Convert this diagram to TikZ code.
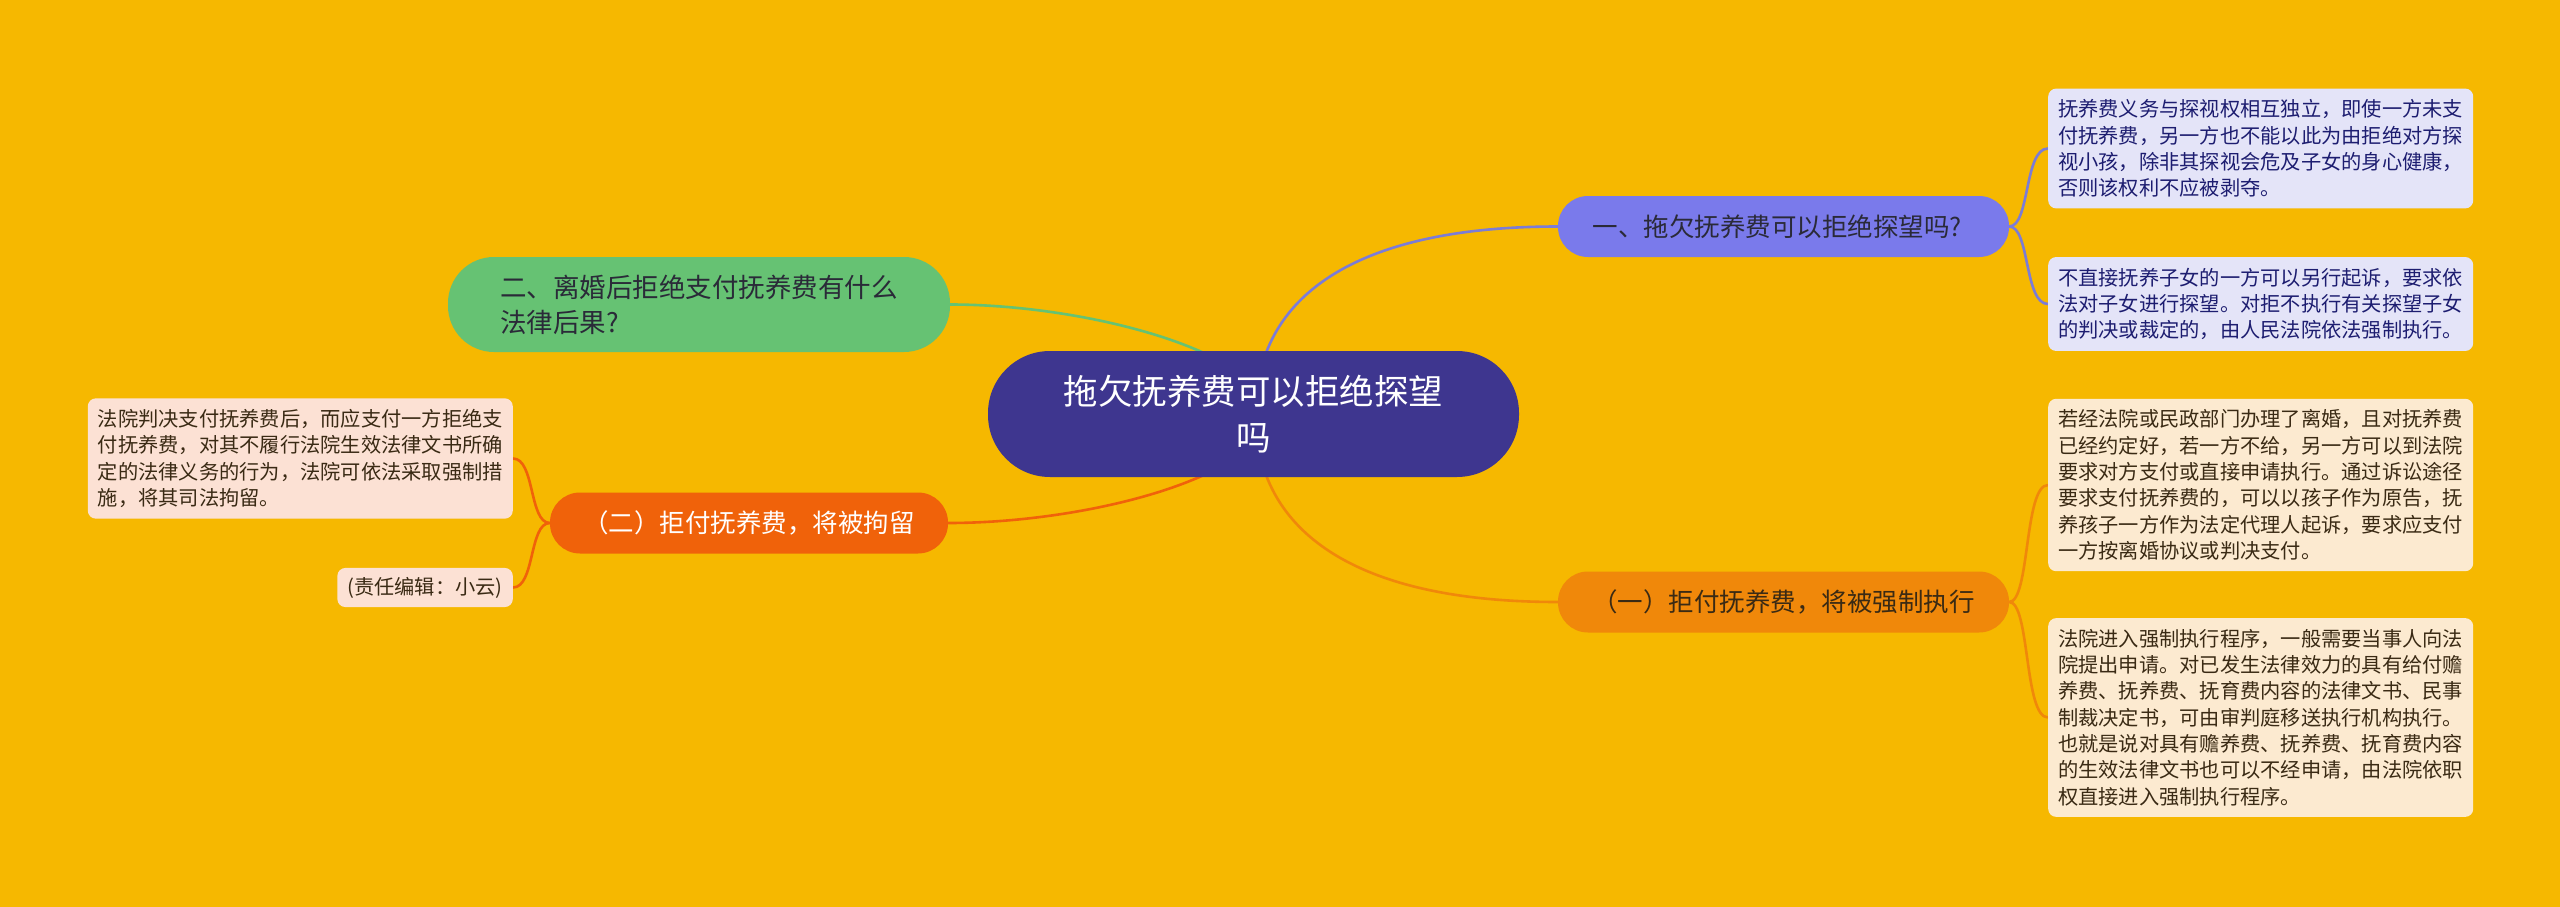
\documentclass[tikz,border=0pt]{standalone}
\usepackage{fontspec}
\setmainfont{Noto Sans CJK SC}
\definecolor{bgc}{HTML}{F6B800}
\definecolor{cen}{HTML}{3E368F}
\definecolor{blu}{HTML}{7A7AEB}
\definecolor{blul}{HTML}{7C7CD6}
\definecolor{grn}{HTML}{66C273}
\definecolor{org}{HTML}{F0880A}
\definecolor{red}{HTML}{F0620A}
\definecolor{lav}{HTML}{E4E4F8}
\definecolor{pch}{HTML}{FCEAD0}
\definecolor{pnk}{HTML}{FCE1D4}
\definecolor{navy}{HTML}{1D1D70}
\definecolor{brn}{HTML}{3A2A14}
\definecolor{drk}{HTML}{2A2A38}
\pgfdeclarelayer{bg}
\pgfsetlayers{bg,main}
\begin{document}
\begin{tikzpicture}[x=1pt,y=-1pt,
  central/.style={fill=cen, text=white, rounded corners=62pt, minimum width=531pt, minimum height=126pt, inner sep=0pt, align=center, font=\fontsize{34.5}{46}\selectfont},
  branch/.style={rounded corners=30pt, minimum width=451pt, minimum height=61pt, inner sep=0pt, align=center, font=\fontsize{25.5}{34}\selectfont},
  leaf/.style={rounded corners=8pt, inner xsep=10pt, inner ysep=11pt, align=left, font=\fontsize{20.25}{26.3}\selectfont},
  conn/.style={line width=2.6pt}
]
\begin{pgfonlayer}{bg}
\fill[bgc] (0,0) rectangle (2560,907);
\end{pgfonlayer}
\useasboundingbox (0,0) rectangle (2560,907);

\node[central] (c) at (1253.5,414) {拖欠抚养费可以拒绝探望\\吗};

\node[branch, fill=blu, text=drk] (b1) at (1783.5,226.5) {一、拖欠抚养费可以拒绝探望吗?\hspace*{12pt}};
\node[branch, fill=org, text=brn] (b2) at (1783.5,602) {（一）拒付抚养费，将被强制执行};
\node[branch, fill=grn, text=drk, minimum width=502pt, minimum height=95pt, rounded corners=46pt, align=left, font=\fontsize{26.5}{35}\selectfont] (g) at (699,304.5) {二、离婚后拒绝支付抚养费有什么\\法律后果?};
\node[branch, fill=red, text=white, minimum width=398pt] (lb) at (749,523) {（二）拒付抚养费，将被拘留};

\node[leaf, fill=lav, text=navy, anchor=west] (r1) at (2048,148.5) {抚养费义务与探视权相互独立，即使一方未支\\付抚养费，另一方也不能以此为由拒绝对方探\\视小孩，除非其探视会危及子女的身心健康，\\否则该权利不应被剥夺。};
\node[leaf, fill=lav, text=navy, anchor=west] (r2) at (2048,304) {不直接抚养子女的一方可以另行起诉，要求依\\法对子女进行探望。对拒不执行有关探望子女\\的判决或裁定的，由人民法院依法强制执行。};
\node[leaf, fill=pch, text=brn, anchor=west] (r3) at (2048,485) {若经法院或民政部门办理了离婚，且对抚养费\\已经约定好，若一方不给，另一方可以到法院\\要求对方支付或直接申请执行。通过诉讼途径\\要求支付抚养费的，可以以孩子作为原告，抚\\养孩子一方作为法定代理人起诉，要求应支付\\一方按离婚协议或判决支付。};
\node[leaf, fill=pch, text=brn, anchor=west] (r4) at (2048,717.5) {法院进入强制执行程序，一般需要当事人向法\\院提出申请。对已发生法律效力的具有给付赡\\养费、抚养费、抚育费内容的法律文书、民事\\制裁决定书，可由审判庭移送执行机构执行。\\也就是说对具有赡养费、抚养费、抚育费内容\\的生效法律文书也可以不经申请，由法院依职\\权直接进入强制执行程序。};
\node[leaf, fill=pnk, text=brn, anchor=east] (l1) at (513,458.5) {法院判决支付抚养费后，而应支付一方拒绝支\\付抚养费，对其不履行法院生效法律文书所确\\定的法律义务的行为，法院可依法采取强制措\\施，将其司法拘留。};
\node[leaf, fill=pnk, text=brn, anchor=east, inner ysep=9pt] (l2) at (513,587.5) {(责任编辑：小云)};

\begin{pgfonlayer}{bg}
\draw[conn, blul] ([xshift=10.5pt,yshift=-8pt]c.north) .. controls (1290,280) and (1380,226.5) .. (b1.west);
\draw[conn, org] ([xshift=10.5pt,yshift=8pt]c.south) .. controls (1290,548) and (1380,602) .. (b2.west);
\draw[conn, grn] ([xshift=-37.5pt,yshift=-8pt]c.north) .. controls (1150,325) and (1040,304.5) .. (g.east);
\draw[conn, red] ([xshift=-37.5pt,yshift=8pt]c.south) .. controls (1150,503) and (1040,523) .. (lb.east);
\draw[conn, blul] (b1.east) .. controls (2030,226.5) and (2024,148.5) .. (r1.west);
\draw[conn, blul] (b1.east) .. controls (2030,226.5) and (2024,304) .. (r2.west);
\draw[conn, org] (b2.east) .. controls (2030,602) and (2024,485) .. (r3.west);
\draw[conn, org] (b2.east) .. controls (2030,602) and (2024,717.5) .. (r4.west);
\draw[conn, red] (lb.west) .. controls (529,523) and (535,458.5) .. (l1.east);
\draw[conn, red] (lb.west) .. controls (529,523) and (535,587.5) .. (l2.east);
\end{pgfonlayer}
\end{tikzpicture}
\end{document}
